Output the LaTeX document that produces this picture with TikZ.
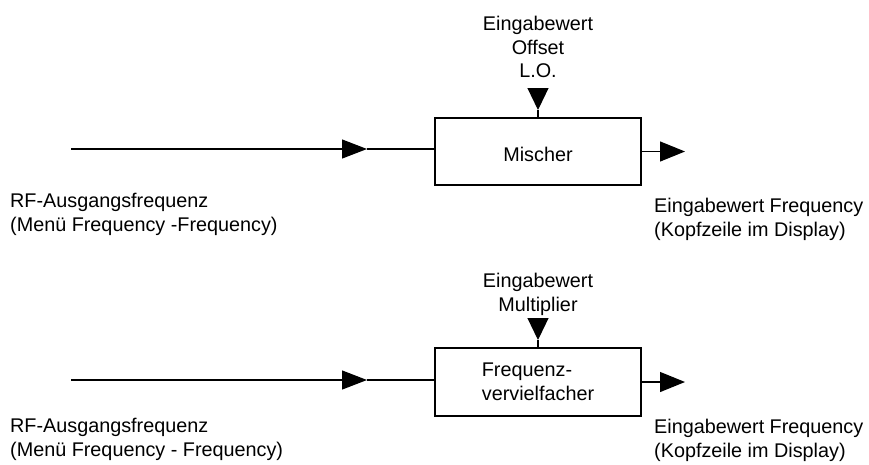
\documentclass[tikz,border=0pt]{standalone}
\usepackage{fontspec}
\setmainfont{Liberation Sans}
\usetikzlibrary{arrows.meta}
\begin{document}
\begin{tikzpicture}[x=1pt,y=-1pt,
  every node/.style={font=\fontsize{19.8}{23.5}\selectfont, inner sep=0pt},
  blockbox/.style={draw, line width=1.2pt, minimum width=206pt, minimum height=67pt},
  lbl/.style={align=left, anchor=north west},
  ctrlbl/.style={align=center, anchor=north},
  conn/.style={line width=1.2pt},
  midtip/.style={-{Triangle[length=25pt,width=19pt]}},
  outtip/.style={-{Triangle[length=25pt,width=20pt]}},
  downtip/.style={-{Triangle[length=22pt,width=21pt]}}
]
\useasboundingbox (0,0) rectangle (869,464);

% ---------- upper diagram ----------
\node[blockbox, text height=19pt, text depth=0pt] (mix) at (538,151.5) {Mischer};
\coordinate (in1) at (71,149);
\coordinate (mid1) at (367,149);
\draw[conn, midtip] (in1) -- (mid1);
\draw[conn] (mid1) -- (mid1 -| mix.west);
\coordinate (out1) at (685,151.5);
\draw[conn, outtip] (mix.east) -- (out1);
\coordinate (lo1) at (538,88);
\coordinate (lot1) at (538,110);
\draw[conn, downtip] (lo1) -- (lot1);
\draw[conn] (lot1) -- (mix.north);
\node[ctrlbl] (par1) at (538,16) {Eingabewert\\Offset\\L.O.};
\node[lbl] (rf1) at (10,193) {RF-Ausgangsfrequenz\\(Menü Frequency -Frequency)};
\node[lbl] (ef1) at (654,198) {Eingabewert Frequency\\(Kopfzeile im Display)};

% ---------- lower diagram ----------
\node[blockbox, minimum height=68pt, align=left] (mul) at (538,382) {Frequenz-\\vervielfacher};
\coordinate (in2) at (71,380);
\coordinate (mid2) at (367,380);
\draw[conn, midtip] (in2) -- (mid2);
\draw[conn] (mid2) -- (mid2 -| mul.west);
\coordinate (out2) at (685,382);
\draw[conn, outtip] (mul.east) -- (out2);
\coordinate (lo2) at (538,318);
\coordinate (lot2) at (538,340);
\draw[conn, downtip] (lo2) -- (lot2);
\draw[conn] (lot2) -- (mul.north);
\node[ctrlbl] (par2) at (538,273) {Eingabewert\\Multiplier};
\node[lbl] (rf2) at (10,418) {RF-Ausgangsfrequenz\\(Menü Frequency - Frequency)};
\node[lbl] (ef2) at (654,419) {Eingabewert Frequency\\(Kopfzeile im Display)};
\end{tikzpicture}
\end{document}
